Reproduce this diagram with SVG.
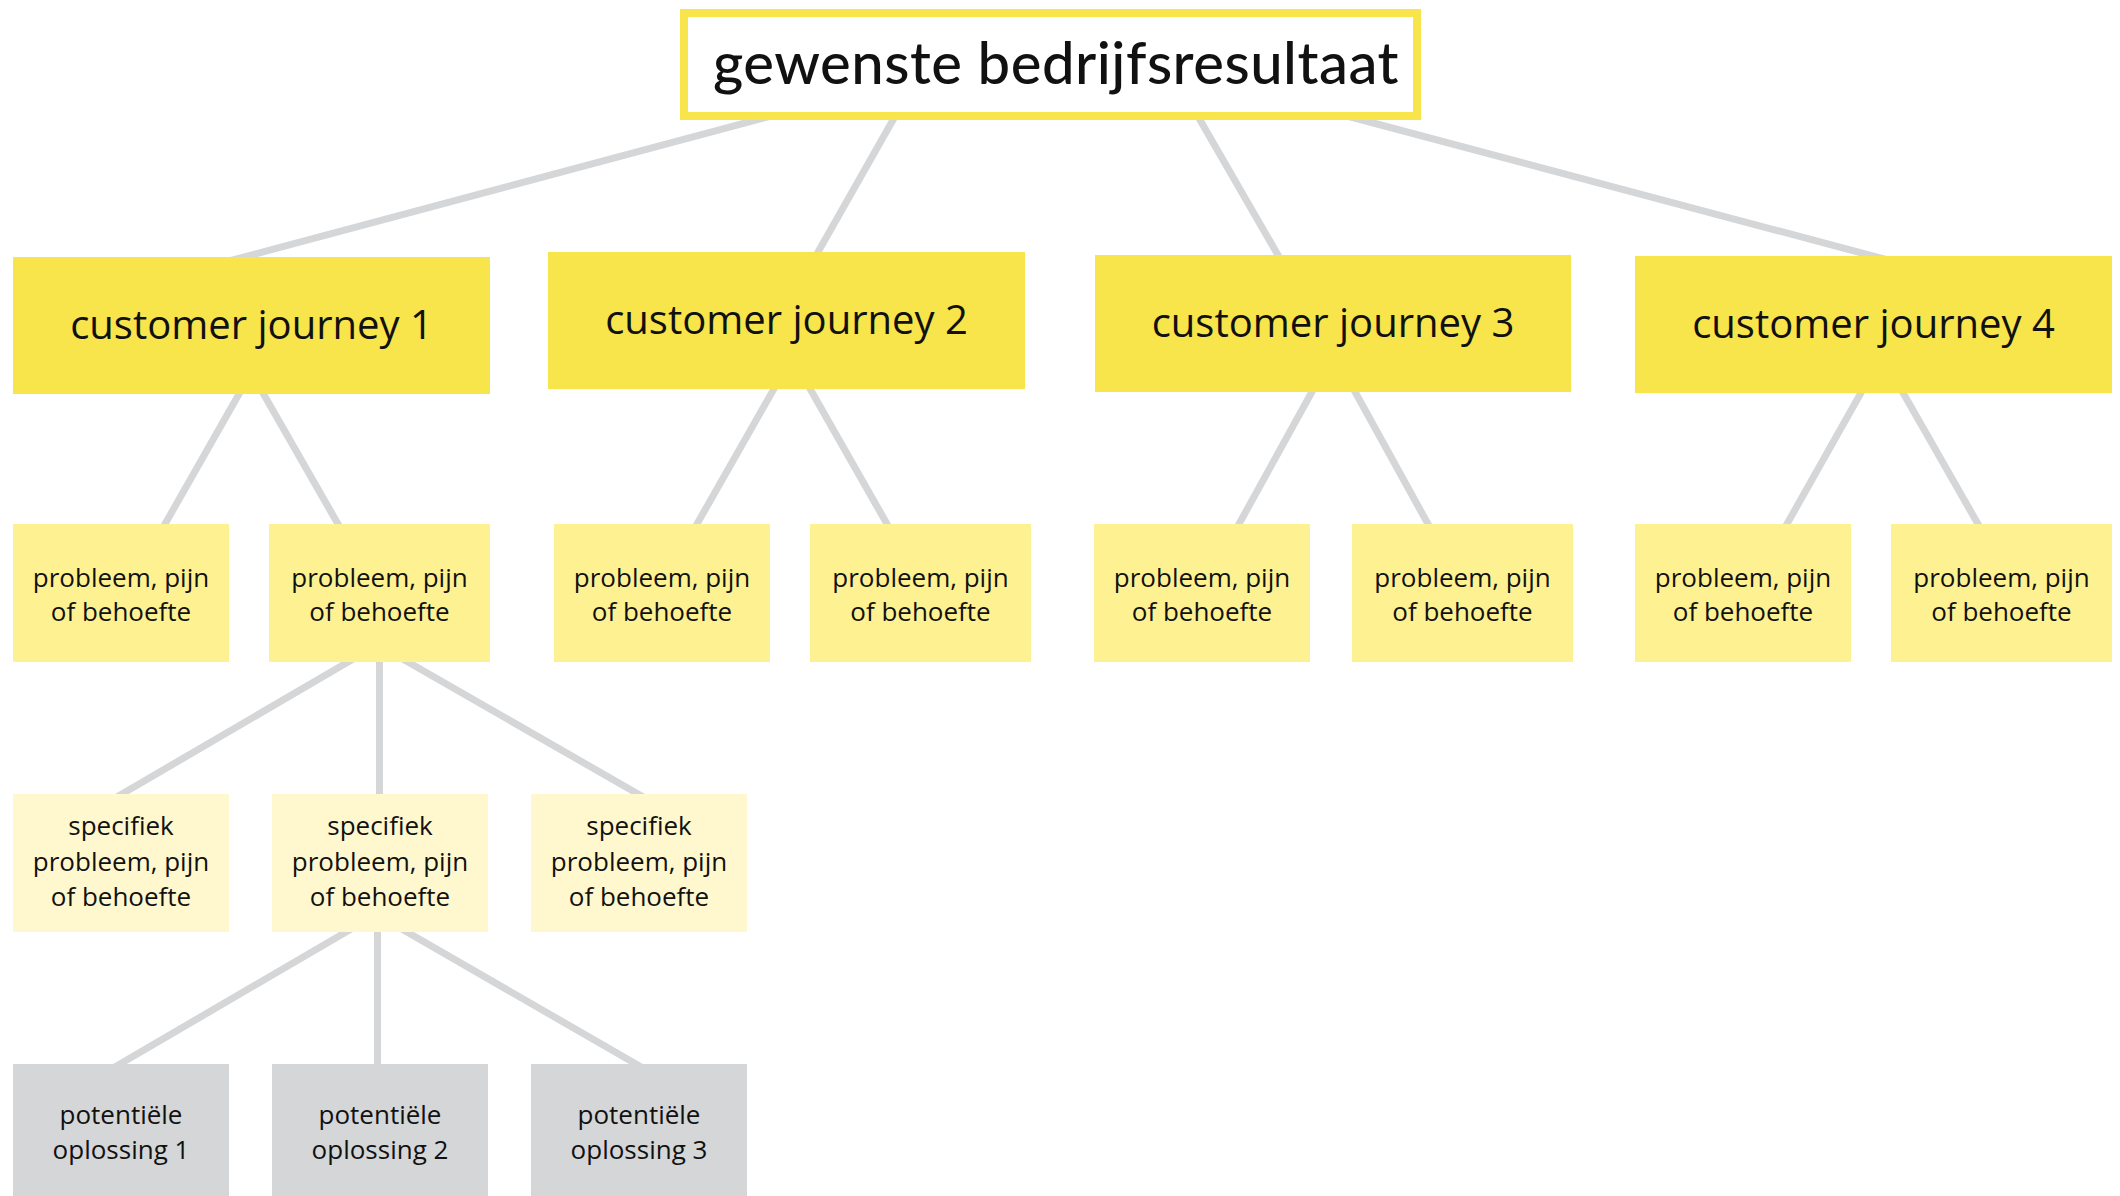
<svg xmlns="http://www.w3.org/2000/svg" width="2120" height="1196" viewBox="0 0 2120 1196">
  <style>
    .link { stroke: #D5D6D8; stroke-width: 7; fill: none; }
    .goal { fill: #FFFFFF; stroke: #F8E44B; stroke-width: 8; }
    .journey { fill: #F8E44B; }
    .problem { fill: #FEF192; }
    .specific { fill: #FFF8CF; }
    .solution { fill: #D5D6D8; }
    text { font-family: "Open Sans", "Noto Sans", "DejaVu Sans", sans-serif; fill: #111111; text-anchor: middle; }
    .title { font-family: Lato, "Open Sans", sans-serif; font-weight: 500; font-size: 58px; letter-spacing: 0.5px; }
    .jt { font-size: 40px; }
    .st { font-size: 26px; }
  </style>

  <rect width="2120" height="1196" fill="#FFFFFF"/>

  <!-- connectors, drawn first so the boxes sit on top -->
  <g id="connectors">
    <line class="link" x1="790" y1="111" x2="214" y2="265"/>
    <line class="link" x1="897.5" y1="112" x2="813.5" y2="260"/>
    <line class="link" x1="1195.4" y1="112" x2="1282.6" y2="263"/>
    <line class="link" x1="1332" y1="112" x2="1903" y2="264"/>

    <line class="link" x1="242.4" y1="388" x2="161.6" y2="530"/>
    <line class="link" x1="260.1" y1="388" x2="341.4" y2="530"/>
    <line class="link" x1="777.4" y1="382.7" x2="693.6" y2="530"/>
    <line class="link" x1="806.6" y1="382.7" x2="890.4" y2="530"/>
    <line class="link" x1="1315.3" y1="385.7" x2="1235.7" y2="530"/>
    <line class="link" x1="1351.7" y1="385.7" x2="1431.3" y2="530"/>
    <line class="link" x1="1864.4" y1="386.7" x2="1783.6" y2="530"/>
    <line class="link" x1="1899.6" y1="386.7" x2="1981.4" y2="530"/>

    <line class="link" x1="358.3" y1="656" x2="111.7" y2="800"/>
    <line class="link" x1="379.5" y1="656" x2="379.5" y2="800"/>
    <line class="link" x1="397.5" y1="656" x2="648.5" y2="800"/>

    <line class="link" x1="356.3" y1="926" x2="109.7" y2="1070"/>
    <line class="link" x1="377.5" y1="926" x2="377.5" y2="1070"/>
    <line class="link" x1="396.6" y1="926" x2="646.4" y2="1070"/>
  </g>

  <g id="goal">
    <rect class="goal" x="684" y="13" width="733" height="103"/>
    <text class="title" x="1056" y="84">gewenste bedrijfsresultaat</text>
  </g>

  <g id="journey-1">
    <rect class="journey" x="13" y="257" width="477" height="137"/>
    <text class="jt" x="251.5" y="339">customer journey 1</text>
  </g>
  <g id="journey-2">
    <rect class="journey" x="548" y="252" width="477" height="137"/>
    <text class="jt" x="786.5" y="333.5">customer journey 2</text>
  </g>
  <g id="journey-3">
    <rect class="journey" x="1095" y="255" width="476" height="137"/>
    <text class="jt" x="1333" y="336.5">customer journey 3</text>
  </g>
  <g id="journey-4">
    <rect class="journey" x="1635" y="256" width="477" height="137"/>
    <text class="jt" x="1873.5" y="337.5">customer journey 4</text>
  </g>

  <g id="problem-1a">
    <rect class="problem" x="13" y="524" width="216" height="138"/>
    <text class="st" x="121" y="587">probleem, pijn</text>
    <text class="st" x="121" y="621">of behoefte</text>
  </g>
  <g id="problem-1b">
    <rect class="problem" x="269" y="524" width="221" height="138"/>
    <text class="st" x="379.5" y="587">probleem, pijn</text>
    <text class="st" x="379.5" y="621">of behoefte</text>
  </g>
  <g id="problem-2a">
    <rect class="problem" x="554" y="524" width="216" height="138"/>
    <text class="st" x="662" y="587">probleem, pijn</text>
    <text class="st" x="662" y="621">of behoefte</text>
  </g>
  <g id="problem-2b">
    <rect class="problem" x="810" y="524" width="221" height="138"/>
    <text class="st" x="920.5" y="587">probleem, pijn</text>
    <text class="st" x="920.5" y="621">of behoefte</text>
  </g>
  <g id="problem-3a">
    <rect class="problem" x="1094" y="524" width="216" height="138"/>
    <text class="st" x="1202" y="587">probleem, pijn</text>
    <text class="st" x="1202" y="621">of behoefte</text>
  </g>
  <g id="problem-3b">
    <rect class="problem" x="1352" y="524" width="221" height="138"/>
    <text class="st" x="1462.5" y="587">probleem, pijn</text>
    <text class="st" x="1462.5" y="621">of behoefte</text>
  </g>
  <g id="problem-4a">
    <rect class="problem" x="1635" y="524" width="216" height="138"/>
    <text class="st" x="1743" y="587">probleem, pijn</text>
    <text class="st" x="1743" y="621">of behoefte</text>
  </g>
  <g id="problem-4b">
    <rect class="problem" x="1891" y="524" width="221" height="138"/>
    <text class="st" x="2001.5" y="587">probleem, pijn</text>
    <text class="st" x="2001.5" y="621">of behoefte</text>
  </g>

  <g id="specific-1">
    <rect class="specific" x="13" y="794" width="216" height="138"/>
    <text class="st" x="121" y="835">specifiek</text>
    <text class="st" x="121" y="870.5">probleem, pijn</text>
    <text class="st" x="121" y="906">of behoefte</text>
  </g>
  <g id="specific-2">
    <rect class="specific" x="272" y="794" width="216" height="138"/>
    <text class="st" x="380" y="835">specifiek</text>
    <text class="st" x="380" y="870.5">probleem, pijn</text>
    <text class="st" x="380" y="906">of behoefte</text>
  </g>
  <g id="specific-3">
    <rect class="specific" x="531" y="794" width="216" height="138"/>
    <text class="st" x="639" y="835">specifiek</text>
    <text class="st" x="639" y="870.5">probleem, pijn</text>
    <text class="st" x="639" y="906">of behoefte</text>
  </g>

  <g id="solution-1">
    <rect class="solution" x="13" y="1064" width="216" height="138"/>
    <text class="st" x="121" y="1124">potentiële</text>
    <text class="st" x="121" y="1159">oplossing 1</text>
  </g>
  <g id="solution-2">
    <rect class="solution" x="272" y="1064" width="216" height="138"/>
    <text class="st" x="380" y="1124">potentiële</text>
    <text class="st" x="380" y="1159">oplossing 2</text>
  </g>
  <g id="solution-3">
    <rect class="solution" x="531" y="1064" width="216" height="138"/>
    <text class="st" x="639" y="1124">potentiële</text>
    <text class="st" x="639" y="1159">oplossing 3</text>
  </g>
</svg>
